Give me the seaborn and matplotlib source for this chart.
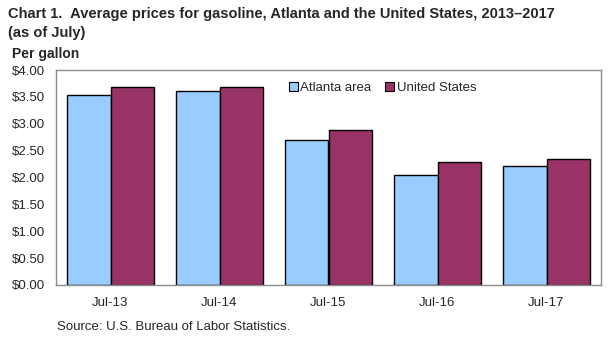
import matplotlib
matplotlib.use("Agg")
import matplotlib.pyplot as plt
import seaborn as sns
import pandas as pd
import numpy as np
from matplotlib.patches import Patch

categories = ["Jul-13", "Jul-14", "Jul-15", "Jul-16", "Jul-17"]
atlanta = [3.53, 3.61, 2.69, 2.05, 2.22]
united_states = [3.68, 3.68, 2.88, 2.28, 2.34]
series_names = ["Atlanta area", "United States"]
colors = ["#99CCFF", "#993366"]
yticks = [0, 0.5, 1.0, 1.5, 2.0, 2.5, 3.0, 3.5, 4.0]

df = pd.DataFrame({
    "period": categories * 2,
    "price": atlanta + united_states,
    "series": [series_names[0]] * len(categories) + [series_names[1]] * len(categories),
})

sns.set_theme(style="white")
plt.rcParams["font.family"] = ["Liberation Sans", "DejaVu Sans"]

fig = plt.figure(figsize=(6.15, 3.42), dpi=100)
ax = fig.add_axes([56 / 615, 1 - 285 / 342, 545 / 615, 215 / 342])

sns.barplot(data=df, x="period", y="price", hue="series", palette=colors,
            width=0.8, edgecolor="black", linewidth=1.0, ax=ax, legend=False,
            saturation=1)

ax.set_ylim(0, 4.0)
ax.set_xlim(-0.5, 4.5)
ax.set_yticks(yticks)
ax.set_yticklabels([f"${v:.2f}" for v in yticks], fontsize=9.5)
ax.set_xticks(range(len(categories)))
ax.set_xticklabels(categories, fontsize=9.5)
ax.set_xticks(np.arange(-0.5, 5, 1), minor=True)
ax.tick_params(axis="x", which="major", length=0, pad=9)
ax.tick_params(axis="x", which="minor", length=5, width=0.8, color="#999999", direction="out")
ax.tick_params(axis="y", which="major", length=4, width=0.8, color="#999999", direction="in", pad=8)
ax.set_xlabel("")
ax.set_ylabel("")
for s in ax.spines.values():
    s.set_visible(True)
    s.set_color("#8c8c8c")
    s.set_linewidth(1.0)

handles = [Patch(facecolor=c, edgecolor="black", linewidth=0.8) for c in colors]
ax.legend(handles, series_names, loc="upper left", bbox_to_anchor=(0.405, 1.0),
          ncol=2, frameon=False, fontsize=9.5, handlelength=0.7, handleheight=0.7,
          handletextpad=0.2, columnspacing=1.0)

fig.text(8 / 615, 1 - 18 / 342, "Chart 1.  Average prices for gasoline, Atlanta and the United States, 2013\u20132017",
         fontsize=10.5, fontweight="bold", va="baseline", ha="left")
fig.text(8 / 615, 1 - 37 / 342, "(as of July)", fontsize=10.5, fontweight="bold", va="baseline", ha="left")
fig.text(12 / 615, 1 - 58 / 342, "Per gallon", fontsize=10, fontweight="bold", va="baseline", ha="left")
fig.text(57 / 615, 1 - 330 / 342, "Source: U.S. Bureau of Labor Statistics.", fontsize=9.5, va="baseline", ha="left")

fig.savefig("out.png", dpi=100)
